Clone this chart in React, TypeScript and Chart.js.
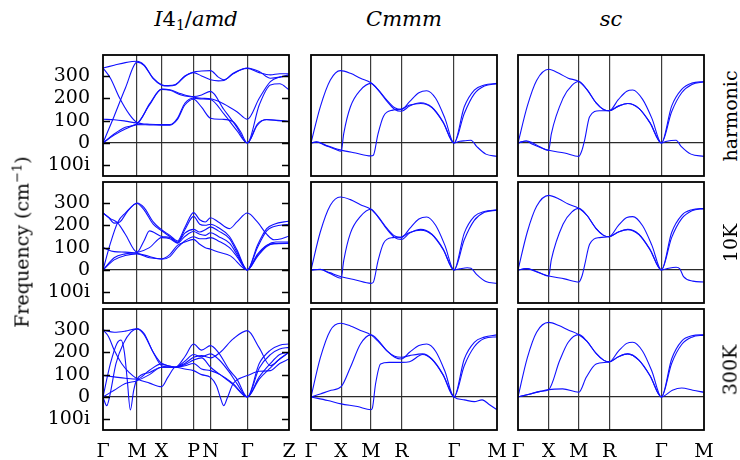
import React, { useEffect, useRef } from "react";
import { Chart, registerables } from "chart.js";

Chart.register(...registerables);

type Pt = [number, number];

// ---------------- axis data ----------------
const FREQ_TICKS = [-100, 0, 100, 200, 300];
const FREQ_MIN = -148;
const FREQ_MAX = 394;

const I41_KPOS = [0, 0.183, 0.315, 0.487, 0.578, 0.776, 1];
const I41_KLBL = ["Γ", "M", "X", "P", "N", "Γ", "Z"];
const CMMM_KPOS = [0, 0.162, 0.322, 0.486, 0.769, 1];
const CMMM_KLBL = ["Γ", "X", "M", "R", "Γ", "M"];
const SC_KPOS = [0, 0.165, 0.327, 0.49, 0.771, 1];
const SC_KLBL = ["Γ", "X", "M", "R", "Γ", "M"];

const CONDITIONS = ["harmonic", "10K", "300K"];

// ---------------- I4_1/amd bands ----------------
const I41_HARMONIC: Pt[][] = [
  [[0,336],[0.06,348],[0.12,360],[0.183,366],[0.22,350],[0.27,290],[0.315,261],[0.35,257],[0.39,262],[0.44,300],[0.487,318],[0.53,322],[0.578,324],[0.62,295],[0.65,283],[0.7,310],[0.776,336],[0.84,320],[0.9,290],[0.95,295],[1,305]],
  [[0,0],[0.06,120],[0.12,245],[0.183,362],[0.22,348],[0.27,288],[0.315,259],[0.35,255],[0.39,260],[0.44,298],[0.487,315],[0.53,300],[0.578,283],[0.62,278],[0.65,280],[0.7,312],[0.776,334],[0.84,315],[0.9,305],[0.95,310],[1,310]],
  [[0,336],[0.04,290],[0.09,200],[0.14,130],[0.183,92],[0.25,84],[0.315,82],[0.36,82],[0.4,110],[0.44,178],[0.487,200],[0.53,197],[0.578,195],[0.65,130],[0.72,55],[0.776,0],[0.83,80],[0.88,105],[0.94,102],[1,96]],
  [[0,0],[0.06,40],[0.12,70],[0.183,86],[0.25,170],[0.315,241],[0.36,238],[0.42,220],[0.487,208],[0.53,215],[0.578,231],[0.65,150],[0.72,70],[0.776,0],[0.84,170],[0.9,260],[0.95,265],[1,238]],
  [[0,0],[0.06,35],[0.12,62],[0.183,82],[0.25,81],[0.315,80],[0.36,80],[0.4,105],[0.44,170],[0.487,196],[0.53,160],[0.578,111],[0.64,106],[0.7,95],[0.74,50],[0.776,0],[0.83,85],[0.88,104],[0.94,100],[1,96]],
  [[0,106],[0.06,104],[0.12,98],[0.183,90],[0.25,175],[0.315,240],[0.36,236],[0.42,215],[0.487,205],[0.53,200],[0.578,198],[0.65,175],[0.72,140],[0.776,106],[0.84,200],[0.9,275],[0.95,295],[1,300]],
];

const I41_10K: Pt[][] = [
  [[0,255],[0.03,235],[0.06,210],[0.09,215],[0.13,260],[0.183,300],[0.22,280],[0.27,215],[0.315,180],[0.36,155],[0.4,130],[0.44,190],[0.487,257],[0.52,225],[0.55,215],[0.578,234],[0.62,215],[0.68,185],[0.72,215],[0.776,255],[0.83,215],[0.88,160],[0.92,135],[0.96,140],[1,152]],
  [[0,0],[0.04,120],[0.08,215],[0.12,255],[0.183,298],[0.22,270],[0.27,205],[0.315,175],[0.36,150],[0.4,125],[0.44,180],[0.487,240],[0.52,205],[0.55,200],[0.578,205],[0.62,190],[0.68,150],[0.72,90],[0.776,0],[0.83,110],[0.88,185],[0.92,205],[1,219]],
  [[0,255],[0.04,230],[0.08,210],[0.12,160],[0.183,80],[0.22,130],[0.25,175],[0.315,150],[0.36,145],[0.4,122],[0.44,165],[0.487,182],[0.52,170],[0.55,180],[0.578,193],[0.62,175],[0.68,140],[0.72,80],[0.776,0],[0.83,100],[0.88,175],[0.92,195],[1,205]],
  [[0,0],[0.06,55],[0.12,72],[0.183,78],[0.25,100],[0.315,145],[0.36,140],[0.4,120],[0.44,150],[0.487,172],[0.52,160],[0.55,155],[0.578,167],[0.62,150],[0.68,120],[0.72,70],[0.776,0],[0.83,60],[0.88,105],[0.92,118],[1,119]],
  [[0,100],[0.06,82],[0.12,80],[0.183,75],[0.25,60],[0.315,48],[0.36,60],[0.4,100],[0.44,130],[0.487,149],[0.52,140],[0.55,140],[0.578,145],[0.62,130],[0.68,100],[0.72,60],[0.776,0],[0.83,70],[0.88,110],[0.92,118],[1,120]],
  [[0,0],[0.06,45],[0.12,65],[0.183,72],[0.25,55],[0.315,50],[0.36,70],[0.4,110],[0.44,125],[0.487,137],[0.52,115],[0.55,100],[0.578,93],[0.62,80],[0.685,63],[0.776,0],[0.83,65],[0.88,110],[0.93,125],[1,125]],
];

const I41_300K: Pt[][] = [
  [[0,300],[0.03,270],[0.06,210],[0.1,150],[0.14,110],[0.183,82],[0.25,62],[0.315,46],[0.35,90],[0.389,133],[0.44,125],[0.487,118],[0.53,100],[0.578,88],[0.61,50],[0.63,0],[0.649,-39],[0.668,-5],[0.7,60],[0.74,85],[0.776,96],[0.84,115],[0.9,118],[0.95,150],[1,170]],
  [[0,0],[0.02,-39],[0.035,0],[0.07,150],[0.11,240],[0.15,290],[0.183,305],[0.22,280],[0.27,200],[0.315,150],[0.35,140],[0.389,133],[0.44,180],[0.487,237],[0.53,210],[0.578,230],[0.62,200],[0.68,120],[0.72,80],[0.776,0],[0.84,150],[0.9,210],[0.95,232],[1,237]],
  [[0,0],[0.04,150],[0.075,240],[0.097,255],[0.115,200],[0.13,80],[0.147,-58],[0.165,30],[0.183,80],[0.25,110],[0.315,133],[0.35,133],[0.389,133],[0.44,160],[0.487,190],[0.53,180],[0.578,193],[0.62,170],[0.68,110],[0.72,60],[0.776,0],[0.84,130],[0.9,190],[0.95,215],[1,222]],
  [[0,0],[0.06,30],[0.12,60],[0.183,73],[0.25,100],[0.315,133],[0.389,133],[0.44,145],[0.487,165],[0.53,175],[0.578,133],[0.63,100],[0.7,55],[0.776,0],[0.84,80],[0.9,130],[0.95,170],[1,200]],
  [[0,96],[0.06,90],[0.12,84],[0.183,80],[0.25,120],[0.315,148],[0.35,140],[0.389,133],[0.44,140],[0.487,150],[0.53,125],[0.578,118],[0.63,100],[0.7,60],[0.776,0],[0.84,90],[0.9,150],[0.95,190],[1,200]],
  [[0,300],[0.06,290],[0.12,295],[0.183,305],[0.22,285],[0.27,200],[0.315,140],[0.35,135],[0.389,133],[0.44,150],[0.487,178],[0.53,185],[0.578,175],[0.63,200],[0.7,260],[0.776,297],[0.84,220],[0.9,140],[0.95,170],[1,200]],
];

// ---------------- Cmmm bands ----------------
const CMMM_HARMONIC: Pt[][] = [
  [[0,0],[0.05,162],[0.104,282],[0.158,324],[0.212,312],[0.266,290],[0.322,270],[0.36,240],[0.41,190],[0.45,158],[0.486,150],[0.53,185],[0.58,225],[0.622,234],[0.67,200],[0.72,110],[0.769,0],[0.824,162],[0.878,237],[0.932,260],[1,267]],
  [[0,0],[0.03,4],[0.08,-12],[0.13,-28],[0.162,-37],[0.176,42],[0.212,162],[0.266,237],[0.322,267],[0.36,238],[0.41,185],[0.45,150],[0.486,142],[0.53,165],[0.59,180],[0.65,160],[0.71,95],[0.769,0],[0.824,132],[0.878,220],[0.932,255],[1,265]],
  [[0,0],[0.03,5],[0.08,-10],[0.13,-25],[0.162,-32],[0.24,-45],[0.322,-58],[0.335,-55],[0.36,40],[0.39,120],[0.44,147],[0.486,152],[0.53,170],[0.59,177],[0.65,158],[0.71,92],[0.769,0],[0.8,8],[0.83,10],[0.86,12],[0.89,-15],[0.94,-50],[1,-60]],
];

const CMMM_10K: Pt[][] = [
  [[0,0],[0.05,170],[0.104,290],[0.158,327],[0.212,315],[0.266,292],[0.322,272],[0.36,240],[0.41,185],[0.45,152],[0.486,145],[0.53,185],[0.58,228],[0.622,237],[0.67,200],[0.72,110],[0.769,0],[0.824,165],[0.878,240],[0.932,262],[1,269]],
  [[0,0],[0.05,3],[0.1,-15],[0.162,-37],[0.176,42],[0.212,165],[0.266,240],[0.322,272],[0.36,238],[0.41,180],[0.45,145],[0.486,137],[0.53,165],[0.59,182],[0.65,160],[0.71,95],[0.769,0],[0.824,135],[0.878,222],[0.932,258],[1,268]],
  [[0,0],[0.05,2],[0.1,-12],[0.162,-30],[0.24,-45],[0.322,-60],[0.335,-55],[0.36,40],[0.39,120],[0.44,145],[0.486,148],[0.53,168],[0.59,178],[0.65,158],[0.71,92],[0.769,0],[0.8,5],[0.84,10],[0.86,8],[0.89,-20],[0.94,-52],[1,-60]],
];

const CMMM_300K: Pt[][] = [
  [[0,0],[0.05,175],[0.104,298],[0.158,330],[0.212,318],[0.266,298],[0.322,278],[0.36,250],[0.41,205],[0.45,178],[0.486,170],[0.53,200],[0.58,230],[0.622,237],[0.67,205],[0.72,115],[0.769,0],[0.824,170],[0.878,245],[0.932,268],[1,278]],
  [[0,0],[0.05,13],[0.1,28],[0.162,46],[0.212,133],[0.266,237],[0.322,278],[0.36,255],[0.41,205],[0.45,182],[0.486,178],[0.53,185],[0.6,193],[0.65,170],[0.71,100],[0.769,0],[0.824,140],[0.878,225],[0.932,262],[1,270]],
  [[0,0],[0.09,-16],[0.162,-31],[0.25,-43],[0.322,-57],[0.33,-50],[0.347,58],[0.374,148],[0.42,155],[0.486,155],[0.53,158],[0.6,190],[0.65,168],[0.71,98],[0.769,0],[0.824,-13],[0.878,-21],[0.92,-13],[0.96,-35],[1,-57]],
];

// ---------------- sc bands ----------------
const SC_HARMONIC: Pt[][] = [
  [[0,0],[0.05,165],[0.1,280],[0.165,330],[0.22,312],[0.27,290],[0.327,275],[0.37,240],[0.42,180],[0.46,150],[0.49,144],[0.54,195],[0.585,232],[0.617,237],[0.67,195],[0.72,110],[0.771,0],[0.826,165],[0.88,240],[0.935,268],[1,275]],
  [[0,0],[0.045,9],[0.072,3],[0.12,-18],[0.165,-33],[0.179,40],[0.242,200],[0.29,258],[0.327,275],[0.37,240],[0.42,180],[0.46,150],[0.49,144],[0.54,165],[0.59,177],[0.65,155],[0.71,90],[0.771,0],[0.826,140],[0.88,225],[0.935,262],[1,273]],
  [[0,0],[0.045,9],[0.072,-3],[0.12,-20],[0.165,-33],[0.25,-45],[0.327,-60],[0.345,-30],[0.358,12],[0.385,117],[0.438,144],[0.49,144],[0.54,165],[0.59,177],[0.65,155],[0.71,90],[0.771,0],[0.8,8],[0.85,12],[0.877,-15],[0.93,-50],[1,-60]],
];

const SC_10K: Pt[][] = [
  [[0,0],[0.05,170],[0.1,285],[0.165,334],[0.22,318],[0.27,295],[0.327,276],[0.37,245],[0.42,185],[0.46,155],[0.49,149],[0.54,200],[0.585,235],[0.617,239],[0.67,198],[0.72,110],[0.771,0],[0.826,168],[0.88,245],[0.935,270],[1,276]],
  [[0,0],[0.045,6],[0.08,0],[0.12,-14],[0.165,-27],[0.179,45],[0.242,205],[0.29,260],[0.327,276],[0.37,245],[0.42,185],[0.46,155],[0.49,149],[0.54,170],[0.59,182],[0.65,160],[0.71,92],[0.771,0],[0.826,145],[0.88,230],[0.935,265],[1,275]],
  [[0,0],[0.045,6],[0.08,-2],[0.12,-15],[0.165,-27],[0.25,-40],[0.327,-54],[0.345,-25],[0.358,20],[0.385,115],[0.438,145],[0.49,149],[0.54,170],[0.59,180],[0.65,158],[0.71,90],[0.771,0],[0.81,8],[0.85,12],[0.87,5],[0.89,-30],[0.94,-50],[1,-54]],
];

const SC_300K: Pt[][] = [
  [[0,0],[0.05,175],[0.1,290],[0.165,334],[0.22,320],[0.27,300],[0.327,279],[0.37,250],[0.42,195],[0.46,165],[0.49,157],[0.54,205],[0.585,240],[0.617,245],[0.67,205],[0.72,115],[0.771,0],[0.826,170],[0.88,250],[0.935,274],[1,279]],
  [[0,0],[0.06,12],[0.12,25],[0.165,33],[0.224,163],[0.27,245],[0.327,279],[0.37,250],[0.42,195],[0.46,165],[0.49,157],[0.54,180],[0.59,193],[0.65,165],[0.71,95],[0.771,0],[0.826,150],[0.88,235],[0.935,268],[1,277]],
  [[0,0],[0.06,12],[0.12,25],[0.165,33],[0.24,36],[0.327,21],[0.367,88],[0.42,148],[0.49,157],[0.54,180],[0.59,193],[0.65,165],[0.71,95],[0.771,0],[0.83,30],[0.88,40],[0.94,30],[1,21]],
];

// ---------------- layout (positions/styles) ----------------
const COL_X = [103, 311, 518];
const COL_W = 186;
const ROW_Y = [55, 182, 309];
const ROW_H = 121;
const PAD = 6;
const LABEL_PAD = 16;
const SERIF = "'DejaVu Serif', serif";
const BLUE = "#1010ff";

const framePlugin = {
  id: "frame",
  afterDraw(chart: any, _args: any, opts: any) {
    const { ctx, chartArea } = chart;
    const { left, top, right, bottom } = chartArea;
    ctx.save();
    ctx.strokeStyle = "#000";
    if (opts && opts.ticks) {
      ctx.lineWidth = 1.3;
      for (const v of FREQ_TICKS) {
        const y = Math.round(chart.scales.y.getPixelForValue(v)) + 0.5;
        ctx.beginPath();
        ctx.moveTo(left, y);
        ctx.lineTo(left + 7, y);
        ctx.moveTo(right - 7, y);
        ctx.lineTo(right, y);
        ctx.stroke();
      }
    }
    ctx.lineWidth = 1.8;
    ctx.strokeRect(left, top, right - left, bottom - top);
    ctx.restore();
  },
};

const zeroPadding = (s: any) => {
  s.paddingTop = 0;
  s.paddingBottom = 0;
  s.paddingLeft = 0;
  s.paddingRight = 0;
};

interface PanelProps {
  row: number;
  col: number;
  bands: Pt[][];
  kpos: number[];
  klbl: string[];
}

function Panel({ row, col, bands, kpos, klbl }: PanelProps) {
  const ref = useRef<HTMLCanvasElement>(null);
  const bottomRow = row === 2;
  const L = col === 0 ? COL_X[0] : bottomRow ? LABEL_PAD : PAD;
  const R = bottomRow ? LABEL_PAD : PAD;
  const B = bottomRow ? 460 - ROW_Y[2] - ROW_H : PAD;
  const T = PAD;
  const w = COL_W + L + R;
  const h = ROW_H + T + B;

  useEffect(() => {
    if (!ref.current) return;
    const chart = new Chart(ref.current, {
      type: "scatter",
      data: {
        datasets: bands.map((b) => ({
          data: b.map(([x, y]) => ({ x, y })),
          showLine: true,
          borderColor: BLUE,
          borderWidth: 1.1,
          pointRadius: 0,
          cubicInterpolationMode: "monotone",
          fill: false,
        })),
      },
      options: {
        responsive: false,
        animation: false,
        devicePixelRatio: 1,
        events: [],
        layout: { padding: { top: T, right: R, left: 0, bottom: 0 } },
        plugins: {
          legend: { display: false },
          tooltip: { enabled: false },
          frame: { ticks: col === 0 },
        } as any,
        scales: {
          x: {
            type: "linear",
            min: 0,
            max: 1,
            afterBuildTicks: (s: any) => {
              s.ticks = kpos.map((v) => ({ value: v }));
            },
            afterFit: (s: any) => {
              s.height = B;
              zeroPadding(s);
            },
            ticks: {
              display: bottomRow,
              autoSkip: false,
              maxRotation: 0,
              padding: 11,
              color: "#000",
              font: { family: SERIF, size: 19 },
              callback: (_v: any, i: number) => klbl[i],
            },
            grid: {
              drawTicks: false,
              lineWidth: 1.2,
              color: (c: any) =>
                c.tick && (c.tick.value === 0 || c.tick.value === 1) ? "rgba(0,0,0,0)" : "#3c3c3c",
            },
            border: { display: false },
          },
          y: {
            type: "linear",
            min: FREQ_MIN,
            max: FREQ_MAX,
            afterBuildTicks: (s: any) => {
              s.ticks = FREQ_TICKS.map((v) => ({ value: v }));
            },
            afterFit: (s: any) => {
              s.width = L;
              zeroPadding(s);
            },
            ticks: {
              display: col === 0,
              padding: 13,
              color: "#000",
              font: { family: SERIF, size: 19 },
              callback: (v: any) => (v < 0 ? `${-v}i` : `${v}`),
            },
            grid: {
              drawTicks: false,
              lineWidth: 1.2,
              color: (c: any) => (c.tick && c.tick.value === 0 ? "#2a2a2a" : "rgba(0,0,0,0)"),
            },
            border: { display: false },
          },
        },
      } as any,
      plugins: [framePlugin as any],
    });
    return () => chart.destroy();
  }, []);

  return (
    <canvas
      ref={ref}
      width={w}
      height={h}
      style={{
        position: "absolute",
        left: COL_X[col] - L,
        top: ROW_Y[row] - T,
        width: w,
        height: h,
      }}
    />
  );
}

const PANELS: PanelProps[] = [
  { row: 0, col: 0, bands: I41_HARMONIC, kpos: I41_KPOS, klbl: I41_KLBL },
  { row: 1, col: 0, bands: I41_10K, kpos: I41_KPOS, klbl: I41_KLBL },
  { row: 2, col: 0, bands: I41_300K, kpos: I41_KPOS, klbl: I41_KLBL },
  { row: 0, col: 1, bands: CMMM_HARMONIC, kpos: CMMM_KPOS, klbl: CMMM_KLBL },
  { row: 1, col: 1, bands: CMMM_10K, kpos: CMMM_KPOS, klbl: CMMM_KLBL },
  { row: 2, col: 1, bands: CMMM_300K, kpos: CMMM_KPOS, klbl: CMMM_KLBL },
  { row: 0, col: 2, bands: SC_HARMONIC, kpos: SC_KPOS, klbl: SC_KLBL },
  { row: 1, col: 2, bands: SC_10K, kpos: SC_KPOS, klbl: SC_KLBL },
  { row: 2, col: 2, bands: SC_300K, kpos: SC_KPOS, klbl: SC_KLBL },
];

const titleStyle = (col: number): React.CSSProperties => ({
  position: "absolute",
  left: COL_X[col] + COL_W / 2,
  top: 9,
  transform: "translateX(-50%)",
  fontFamily: SERIF,
  fontSize: 21,
  lineHeight: 1,
  whiteSpace: "nowrap",
  color: "#000",
});

const rotStyle = (cx: number, cy: number): React.CSSProperties => ({
  position: "absolute",
  left: cx,
  top: cy,
  transform: "translate(-50%, -50%) rotate(-90deg)",
  fontFamily: SERIF,
  fontSize: 19,
  lineHeight: 1,
  whiteSpace: "nowrap",
  color: "#000",
});

export default function App() {
  return (
    <div
      style={{
        position: "fixed",
        left: 0,
        top: 0,
        width: 740,
        height: 460,
        overflow: "hidden",
        background: "#fff",
      }}
    >
      {PANELS.map((p) => (
        <Panel key={`${p.row}-${p.col}`} {...p} />
      ))}
      <div style={titleStyle(0)}>
        <i>I</i>4<sub style={{ fontSize: 14, verticalAlign: "-4px" }}>1</sub>/<i>amd</i>
      </div>
      <div style={titleStyle(1)}>
        <i>Cmmm</i>
      </div>
      <div style={titleStyle(2)}>
        <i>sc</i>
      </div>
      {CONDITIONS.map((c, r) => (
        <div key={c} style={rotStyle(730, ROW_Y[r] + ROW_H / 2)}>
          {c}
        </div>
      ))}
      <div style={rotStyle(21, 242)}>
        Frequency (cm<sup style={{ fontSize: 13, verticalAlign: "7px" }}>−1</sup>)
      </div>
    </div>
  );
}
